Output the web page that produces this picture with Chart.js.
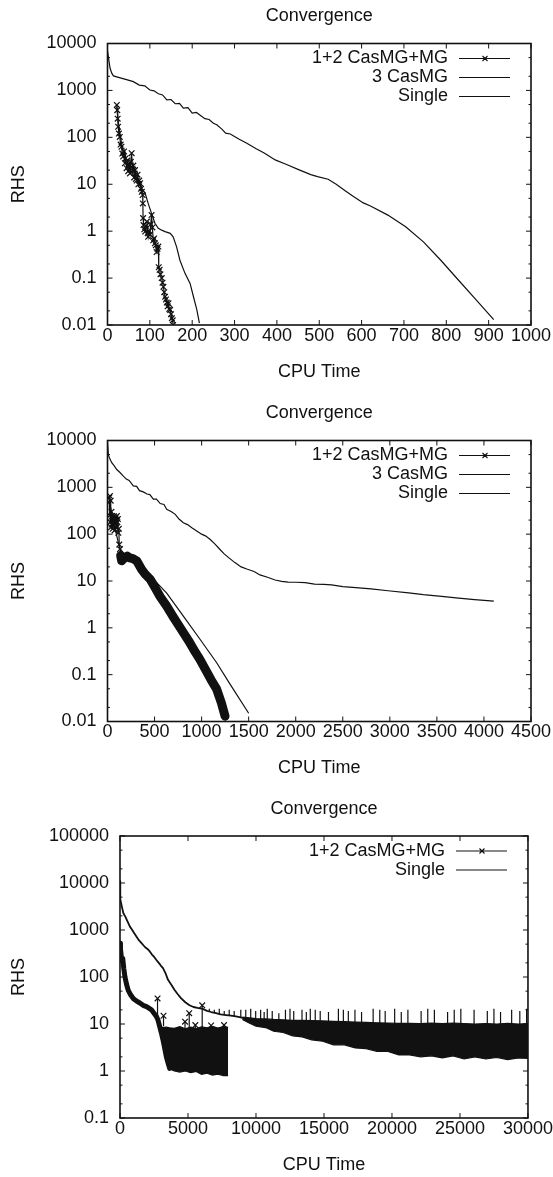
<!DOCTYPE html>
<html>
<head>
<meta charset="utf-8">
<script src="https://cdn.jsdelivr.net/npm/chart.js@4.4.1/dist/chart.umd.min.js"></script>
<style>
  html, body { margin: 0; padding: 0; background: #fff; overflow: hidden; }
  body { width: 553px; height: 1177px; position: relative; }
  .panel { position: absolute; left: 0; width: 553px; }
</style>
</head>
<body>
<div class="panel" style="top:0;height:386px"><canvas id="c1"></canvas></div>
<div class="panel" style="top:386px;height:396px"><canvas id="c2"></canvas></div>
<div class="panel" style="top:782px;height:395px"><canvas id="c3"></canvas></div>
<script>
// ---- labels ----
const TITLE = "Convergence";
const X_TITLE = "CPU Time";
const Y_TITLE = "RHS";
const MIX_LABEL = "1+2 CasMG+MG";
const CAS_LABEL = "3 CasMG";
const SINGLE_LABEL = "Single";

// ---- panel 1 ----
const c1XTicks = [0, 100, 200, 300, 400, 500, 600, 700, 800, 900, 1000];
const c1YTicks = [0.01, 0.1, 1, 10, 100, 1000, 10000];
const c1MixT = [22, 23, 24, 25, 27, 29, 31, 33, 35, 37, 39, 41, 43, 45, 47, 49, 51, 53, 55, 57, 59, 61, 63, 65, 67, 69, 71, 73, 75, 77, 79, 81, 83, 83.5, 84, 85, 87, 89, 91, 93, 95, 96, 98, 100, 102, 104, 106, 108, 110, 112, 114, 116, 118, 120, 121, 123, 125, 128, 130, 132, 134, 136, 138, 140, 142, 144, 146, 148, 150, 152, 154, 155];
const c1MixY = [490, 380, 250, 168, 120, 102, 70, 63, 45, 39, 50, 28, 36, 22, 32, 19, 27, 17, 30, 46, 20, 25, 14, 20, 13, 12, 16, 10, 12, 10.5, 8, 6.9, 5.9, 3.9, 1.9, 1.35, 1.1, 0.98, 1.3, 1.6, 0.9, 0.76, 1.0, 0.85, 1.4, 2.2, 1.2, 0.64, 0.7, 0.55, 0.5, 0.36, 0.42, 0.47, 0.17, 0.15, 0.12, 0.1, 0.08, 0.065, 0.05, 0.04, 0.035, 0.03, 0.025, 0.029, 0.022, 0.021, 0.017, 0.014, 0.0126, 0.01];
const c1CasT = [22, 26, 30, 35, 40, 50, 60, 70, 78, 81, 89, 96, 104, 112, 120, 128, 136, 148, 155, 163, 171, 183, 195, 203, 211, 217];
const c1CasY = [450, 200, 110, 60, 35, 22, 16, 12, 9.5, 8.2, 6.4, 3.9, 2.4, 1.47, 1.15, 1.05, 0.98, 0.9, 0.76, 0.47, 0.24, 0.126, 0.077, 0.04, 0.021, 0.011];
const c1SingleT = [0, 2, 6, 10, 14, 30, 45, 61, 75, 88, 100, 110, 120, 130, 140, 150, 160, 170, 179, 190, 200, 210, 218, 230, 240, 250, 258, 270, 279, 290, 310, 329, 350, 371, 396, 420, 454, 480, 496, 521, 540, 562, 579, 604, 621, 662, 704, 746, 787, 829, 871, 912];
const c1SingleY = [7000, 5200, 3000, 2330, 2040, 1850, 1700, 1540, 1300, 1250, 1020, 980, 850, 800, 630, 640, 520, 530, 420, 430, 330, 340, 300, 250, 240, 200, 185, 150, 123, 118, 92, 75, 58, 46, 33, 27, 20, 16, 14.5, 12.8, 10, 7.2, 5.6, 4.0, 3.45, 2.2, 1.24, 0.59, 0.24, 0.09, 0.034, 0.013];

// ---- panel 2 ----
const c2XTicks = [0, 500, 1000, 1500, 2000, 2500, 3000, 3500, 4000, 4500];
const c2YTicks = [0.01, 0.1, 1, 10, 100, 1000, 10000];
const c2MixT = [18, 22, 26, 30, 34, 38, 42, 46, 50, 55, 60, 65, 70, 75, 80, 85, 90, 95, 100, 105, 110, 115, 120, 125, 133, 140, 151, 165, 186, 210, 239, 270, 310, 360, 400, 452, 500, 560, 629, 700, 760, 806, 870, 930, 983, 1040, 1100, 1160, 1210, 1249];
const c2MixY = [600, 250, 650, 180, 520, 140, 300, 160, 245, 130, 200, 150, 240, 120, 200, 170, 230, 140, 245, 180, 210, 107, 130, 60, 48, 35, 27, 29, 32, 34, 31, 30, 27, 18, 14, 11, 7.5, 4.6, 2.9, 1.7, 1.1, 0.79, 0.5, 0.31, 0.21, 0.13, 0.078, 0.049, 0.025, 0.013];
const c2CasT = [20, 60, 120, 160, 230, 300, 380, 470, 629, 806, 983, 1160, 1302, 1500];
const c2CasY = [500, 200, 60, 34, 30, 26, 20, 12, 5.5, 1.78, 0.57, 0.18, 0.063, 0.015];
const c2SingleT = [0, 9, 20, 45, 70, 98, 130, 168, 200, 230, 274, 310, 340, 380, 420, 450, 487, 520, 560, 600, 629, 680, 720, 760, 806, 850, 900, 948, 1000, 1040, 1089, 1140, 1195, 1240, 1284, 1350, 1420, 1480, 1557, 1620, 1700, 1781, 1850, 1920, 2000, 2100, 2200, 2300, 2381, 2500, 2606, 2800, 2981, 3200, 3356, 3550, 3731, 3900, 4105];
const c2SingleY = [9500, 5000, 4300, 3360, 2900, 2400, 2100, 1740, 1500, 1400, 1070, 1050, 850, 800, 720, 700, 560, 560, 450, 430, 340, 300, 265, 210, 175, 160, 135, 117, 100, 92, 78, 62, 47, 38, 32, 25, 20, 18, 16, 13.5, 12, 10.5, 9.8, 9.5, 9.4, 9.2, 8.6, 8.5, 8.3, 7.6, 7.3, 6.8, 6.2, 5.6, 5.1, 4.7, 4.3, 4.0, 3.7];

// ---- panel 3 ----
const c3XTicks = [0, 5000, 10000, 15000, 20000, 25000, 30000];
const c3YTicks = [0.1, 1, 10, 100, 1000, 10000, 100000];
const c3MixT = [0, 0, 40, 60, 122, 200, 280, 365, 480, 606, 780, 971, 1200, 1460, 1700, 1949, 2100, 2314, 2500, 2679, 2800, 2920, 3040, 3161, 3290, 3409, 3530, 3650];
const c3MixY = [520, 280, 450, 400, 230, 250, 150, 100, 70, 52, 42, 35, 31, 28, 25, 23.5, 22, 20, 17, 14.5, 12, 8.8, 6.5, 4.6, 3.0, 2.0, 1.5, 1.14];
const c3MixBandT = [2920, 3161, 3409, 3650, 4000, 4400, 4800, 5200, 5600, 6000, 6400, 6800, 7200, 7600, 7950];
const c3MixBandHi = [8.8, 8.4, 8.6, 8.3, 8.1, 8.8, 7.9, 8.6, 8.0, 8.7, 8.3, 8.9, 8.2, 8.8, 8.5];
const c3MixBandLo = [8.8, 4.6, 2.0, 1.1, 1.0, 0.95, 1.0, 0.92, 0.98, 0.85, 0.9, 0.82, 0.86, 0.8, 0.8];
const c3MixSpikeT = [2760, 3200, 4780, 5090, 5540, 6045, 6700, 7650];
const c3MixSpikeLo = [14, 9, 8, 8, 8, 8, 8, 8];
const c3MixSpikeHi = [35, 15, 11.2, 17, 9.5, 25, 9.3, 9.5];
const c3SingleT = [0, 20, 120, 244, 400, 560, 730, 900, 1050, 1217, 1400, 1550, 1703, 1850, 2000, 2190, 2350, 2500, 2677, 2850, 3000, 3163, 3350, 3530, 3750, 4015, 4250, 4500, 4800, 5110, 5400, 5700, 6083, 6400, 6700, 7057, 7400, 7800, 8150, 8517, 8800, 9000];
const c3SingleY = [11000, 4500, 3300, 2300, 1900, 1500, 1180, 1000, 850, 720, 600, 540, 480, 430, 400, 350, 300, 270, 230, 200, 175, 154, 120, 87, 70, 53, 43, 35, 29, 25, 23, 22, 21, 19, 18, 17, 16, 15.5, 15, 14.5, 14, 13.5];
const c3BandT = [9000, 9500, 10000, 10700, 11300, 12000, 12700, 13400, 14100, 14900, 15700, 16500, 17300, 18100, 18900, 19700, 20500, 21300, 22100, 22900, 23700, 24500, 25300, 26100, 26900, 27700, 28500, 29300, 30000];
const c3BandHi = [14, 13.5, 13, 12.8, 12.5, 12.3, 12, 12, 11.8, 11.6, 11.4, 11.2, 11, 10.8, 10.6, 10.5, 10.3, 10.3, 10.2, 10.4, 10.2, 10.5, 10.2, 10.0, 10.2, 10.0, 10.3, 10.0, 10.2];
const c3BandLo = [12.5, 10.5, 9.0, 8.4, 7.0, 6.6, 5.6, 5.3, 4.6, 4.3, 3.6, 3.6, 3.1, 3.0, 2.6, 2.6, 2.2, 2.2, 2.0, 2.1, 1.9, 2.1, 1.8, 2.0, 1.8, 1.95, 1.75, 1.9, 1.85];
const c3SpikeT = [6570, 6935, 7300, 7665, 8030, 8395, 8882, 9248, 9612, 9977, 10342, 10600, 10829, 11194, 11680, 12167, 12500, 12775, 13383, 13700, 13992, 14357, 14722, 15330, 16060, 16425, 16790, 17277, 17763, 18615, 19102, 19500, 20197, 20683, 21170, 22143, 22630, 23117, 24090, 24577, 25063, 26037, 27010, 27497, 27983, 28800, 29400, 29900];
const c3SpikeLo = [19, 17.5, 16.5, 16, 15.5, 14.7, 14, 13, 12.5, 12, 11, 11, 11, 11, 11, 11, 11, 11, 11, 11, 11, 11, 10.5, 10.5, 10.5, 10.5, 10.5, 10.5, 10.5, 10, 10, 10, 10, 10, 10, 10, 10, 10, 10, 10, 10, 10, 10, 10, 10, 10, 10, 10];
const c3SpikeHi = [21, 20, 21, 19, 20, 19, 20, 20, 21, 19, 20, 18, 21, 19, 17, 20, 21, 19, 20, 18, 21, 20, 19, 18, 21, 20, 19, 20, 18, 21, 20, 19, 21, 18, 20, 19, 21, 20, 18, 20, 21, 20, 19, 21, 18, 20, 19, 21];

const INK = "#111";
const FONT = '"Liberation Sans", Arial, Helvetica, sans-serif';
const FSIZE = 18;
Chart.defaults.font.family = FONT;
Chart.defaults.color = INK;

const pts = (ts, ys) => ts.map((t, i) => ({ x: t, y: ys[i] }));
const stems = (ts, lo, hi) => ts.flatMap((t, i) => [{ x: t, y: lo[i] }, { x: t, y: hi[i], top: true }, { x: t, y: null }]);

// gnuplot-like frame, inward ticks, title and key
const gnuDecor = {
  id: "gnuDecor",
  afterDatasetsDraw(chart) {
    const { ctx, chartArea: a, scales: { x, y } } = chart;
    ctx.save();
    ctx.strokeStyle = INK;
    ctx.fillStyle = INK;
    ctx.lineWidth = 1;
    ctx.beginPath();
    x.ticks.forEach(t => {
      const p = x.getPixelForValue(t.value);
      ctx.moveTo(p, a.bottom); ctx.lineTo(p, a.bottom - 5);
      ctx.moveTo(p, a.top); ctx.lineTo(p, a.top + 5);
    });
    y.ticks.forEach((t, i) => {
      const p = y.getPixelForValue(t.value);
      ctx.moveTo(a.left, p); ctx.lineTo(a.left + 5, p);
      ctx.moveTo(a.right, p); ctx.lineTo(a.right - 5, p);
      if (i < y.ticks.length - 1) {
        [2, 5].forEach(m => {
          const q = y.getPixelForValue(t.value * m);
          ctx.moveTo(a.left, q); ctx.lineTo(a.left + 2.5, q);
          ctx.moveTo(a.right, q); ctx.lineTo(a.right - 2.5, q);
        });
      }
    });
    ctx.stroke();
    ctx.lineWidth = 1.6;
    ctx.strokeRect(a.left, a.top, a.right - a.left, a.bottom - a.top);

    ctx.font = FSIZE + "px " + FONT;
    ctx.textBaseline = "middle";
    ctx.textAlign = "center";
    ctx.fillText(TITLE, (a.left + a.right) / 2, a.top - 27);

    ctx.textAlign = "right";
    ctx.lineWidth = 1.1;
    chart.data.datasets.filter(d => d.label).forEach((d, i) => {
      const yy = a.top + 15 + 19 * i;
      ctx.fillText(d.label, a.right - 83, yy);
      ctx.beginPath();
      ctx.moveTo(a.right - 72, yy); ctx.lineTo(a.right - 21, yy);
      if (d.legendMark) {
        const cx = a.right - 46;
        ctx.moveTo(cx - 2.5, yy - 2.5); ctx.lineTo(cx + 2.5, yy + 2.5);
        ctx.moveTo(cx - 2.5, yy + 2.5); ctx.lineTo(cx + 2.5, yy - 2.5);
      }
      ctx.stroke();
    });
    ctx.restore();
  }
};

function draw(id, geo, xTicks, yTicks, datasets) {
  return new Chart(document.getElementById(id), {
    type: "line",
    data: { datasets },
    options: {
      responsive: true, maintainAspectRatio: false, animation: false, devicePixelRatio: 1, events: [],
      layout: { padding: { top: geo.aTop - geo.top, right: 553 - geo.right, left: 0, bottom: 0 } },
      elements: {
        line: { borderColor: INK, backgroundColor: INK, borderWidth: 1.2, tension: 0, fill: false },
        point: { radius: 0, borderColor: INK, backgroundColor: INK, borderWidth: 1.2, pointStyle: "crossRot" }
      },
      plugins: { legend: { display: false }, title: { display: false }, tooltip: { enabled: false } },
      scales: {
        x: {
          type: "linear", min: xTicks[0], max: xTicks[xTicks.length - 1], offset: false,
          afterBuildTicks: s => { s.ticks = xTicks.map(v => ({ value: v })); },
          afterFit: s => { s.height = geo.top + geo.h - geo.aBot; },
          grid: { display: false, drawTicks: false }, border: { display: false },
          ticks: { padding: 0, autoSkip: false, maxRotation: 0, color: INK, font: { size: FSIZE }, callback: v => String(v) },
          title: { display: true, text: X_TITLE, color: INK, font: { size: FSIZE }, padding: { top: 0, bottom: geo.tb } }
        },
        y: {
          type: "logarithmic", min: yTicks[0], max: yTicks[yTicks.length - 1],
          afterBuildTicks: s => { s.ticks = yTicks.map(v => ({ value: v })); },
          afterFit: s => { s.width = geo.left; },
          grid: { display: false, drawTicks: false }, border: { display: false },
          ticks: { padding: 11, autoSkip: false, color: INK, font: { size: FSIZE }, callback: v => String(v) },
          title: { display: true, text: Y_TITLE, color: INK, font: { size: FSIZE }, padding: { top: 8.5, bottom: 0 } }
        }
      }
    },
    plugins: [gnuDecor]
  });
}

const round = { borderJoinStyle: "round", borderCapStyle: "round" };

draw("c1", { top: 0, h: 386, left: 107.5, right: 531, aTop: 43.5, aBot: 325, tb: 3.5 }, c1XTicks, c1YTicks, [
  { label: MIX_LABEL, legendMark: true, data: pts(c1MixT, c1MixY), pointRadius: 4 },
  { label: CAS_LABEL, data: pts(c1CasT, c1CasY) },
  { label: SINGLE_LABEL, data: pts(c1SingleT, c1SingleY) }
]);

draw("c2", { top: 386, h: 396, left: 107.5, right: 531, aTop: 440.5, aBot: 721.5, tb: 3.5 }, c2XTicks, c2YTicks, [
  { label: MIX_LABEL, legendMark: true, data: pts(c2MixT, c2MixY), pointRadius: 4, ...round,
    segment: { borderWidth: c => (c2MixT[c.p0DataIndex] >= 140 ? 9 : 1.2) } },
  { label: CAS_LABEL, data: pts(c2CasT, c2CasY) },
  { label: SINGLE_LABEL, data: pts(c2SingleT, c2SingleY) }
]);

draw("c3", { top: 782, h: 395, left: 120, right: 531, aTop: 836, aBot: 1118, tb: 1.5 }, c3XTicks, c3YTicks, [
  { label: MIX_LABEL, legendMark: true, data: pts(c3MixT, c3MixY), borderWidth: 5, ...round },
  { data: pts(c3MixBandT, c3MixBandHi) },
  { data: pts(c3MixBandT, c3MixBandLo), fill: "-1", backgroundColor: INK },
  { data: stems(c3MixSpikeT, c3MixSpikeLo, c3MixSpikeHi), pointRadius: c => (c.raw && c.raw.top ? 4 : 0) },
  { label: SINGLE_LABEL, data: pts(c3SingleT, c3SingleY), borderWidth: 1.8, ...round },
  { data: pts(c3BandT, c3BandHi) },
  { data: pts(c3BandT, c3BandLo), fill: "-1", backgroundColor: INK },
  { data: stems(c3SpikeT, c3SpikeLo, c3SpikeHi) }
]);
</script>
</body>
</html>
